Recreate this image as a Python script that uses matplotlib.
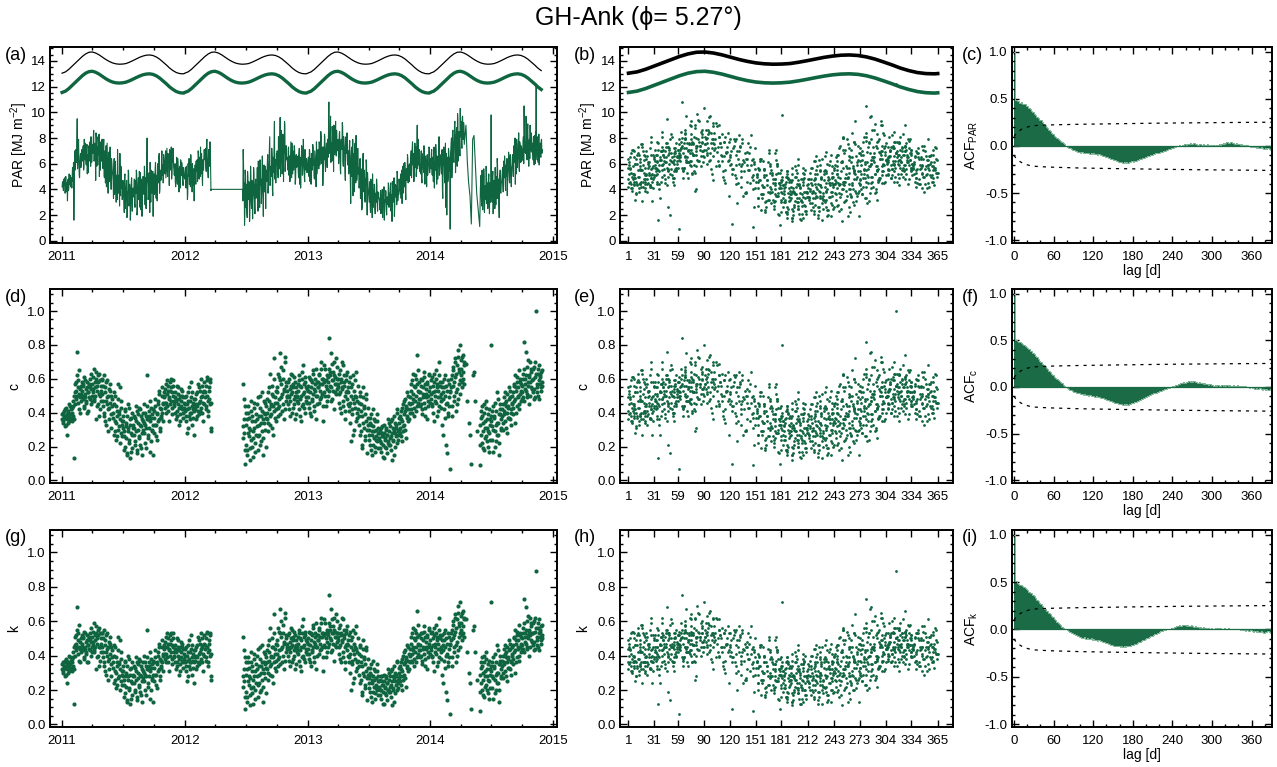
import numpy as np
import pandas as pd
import matplotlib
matplotlib.use('Agg')
import matplotlib.pyplot as plt
import matplotlib.dates as mdates
from matplotlib.ticker import MultipleLocator, FixedLocator, FormatStrFormatter

plt.rcParams['font.family'] = ['Liberation Sans', 'DejaVu Sans']
plt.rcParams['mathtext.fontset'] = 'custom'
plt.rcParams['mathtext.rm'] = 'Liberation Sans'
plt.rcParams['mathtext.it'] = 'Liberation Sans:italic'
plt.rcParams['axes.unicode_minus'] = False

''' Data read off the figure '''
# each row of observations starts at row_start and is sampled every row_step days;
# the *_odd rows hold the days in between (one day later)
row_start = ['2011-01-01', '2011-02-01', '2011-03-01', '2011-04-01', '2011-05-01', '2011-06-01',
             '2011-07-01', '2011-08-02', '2011-09-01', '2011-10-01', '2011-11-01', '2011-12-01',
             '2012-01-01', '2012-02-01', '2012-03-01',
             '2012-06-21', '2012-07-01', '2012-08-02', '2012-09-01', '2012-10-01', '2012-11-01', '2012-12-01',
             '2013-01-01', '2013-02-01', '2013-03-01', '2013-04-01', '2013-05-01', '2013-06-01',
             '2013-07-01', '2013-08-02', '2013-09-01', '2013-10-01', '2013-11-01', '2013-12-01',
             '2014-01-01', '2014-02-01', '2014-03-01', '2014-04-01',
             '2014-04-17',
             '2014-05-28', '2014-07-01', '2014-08-02', '2014-09-01', '2014-10-01', '2014-11-02']
row_step = [2] * 38 + [4] + [2] * 6

par_rows = [
    [4.2, 4.6, 3.9, 4.4, 4.9, 4.3, 3.8, 4.5, 3.1, 4.8, 4.1, 4.4, 5.1, 4.2, 4.6, 5.0],
    [5.7, 4.6, 1.6, 6.3, 5.5, 7.1, 6.1, 9.5, 6.7, 7.9, 5.1, 6.0, 6.8, 6.2],
    [6.8, 6.2, 7.4, 5.7, 6.6, 7.6, 6.1, 7.1, 5.2, 6.7, 7.2, 6.3, 7.7, 5.8, 7.0, 6.5],
    [7.5, 6.8, 8.6, 6.3, 7.2, 4.7, 7.9, 6.9, 5.9, 7.6, 8.3, 6.6, 5.5, 7.3, 7.7],
    [6.5, 5.6, 7.9, 4.9, 7.0, 6.0, 4.2, 7.6, 5.4, 6.4, 4.6, 6.8, 5.9, 4.0, 6.1],
    [5.0, 3.3, 6.4, 4.3, 5.5, 3.0, 4.7, 7.1, 3.7, 5.1, 2.7, 4.5, 5.8, 4.1, 3.2],
    [4.7, 3.6, 2.2, 5.2, 3.1, 4.2, 1.8, 3.8, 5.5, 2.7, 4.4, 1.6, 3.4, 4.9, 2.3, 4.1],
    [3.4, 4.8, 2.6, 4.4, 5.5, 2.0, 3.8, 4.9, 3.2, 4.2, 5.3, 2.4, 4.5, 3.5, 5.0],
    [4.4, 5.8, 2.8, 4.9, 4.0, 8.0, 4.6, 3.5, 5.3, 2.2, 4.5, 5.5, 3.9, 5.0, 1.9],
    [4.7, 3.6, 5.6, 4.2, 5.1, 3.1, 6.0, 4.6, 6.8, 4.0, 5.4, 4.9, 7.0, 5.8, 4.5, 6.3],
    [6.1, 5.2, 7.0, 5.6, 7.2, 5.0, 6.5, 5.9, 7.1, 5.5, 6.7, 4.8, 6.3, 7.2, 5.7],
    [5.1, 6.0, 4.2, 5.6, 4.8, 6.4, 5.2, 3.8, 5.8, 4.5, 5.5, 6.1, 4.9, 4.3, 5.3],
    [4.8, 5.7, 4.1, 5.2, 3.2, 6.0, 5.0, 4.4, 5.5, 6.7, 4.6, 3.8, 5.3, 4.9, 3.1, 5.1],
    [5.9, 4.4, 5.5, 6.3, 5.0, 6.7, 4.8, 5.7, 7.3, 5.2, 6.1, 4.3, 5.6, 6.5],
    [6.3, 7.2, 5.4, 7.9, 6.1, 4.9, 6.8, 5.8, 7.5, 3.9],
    [4.0, 7.1, 3.5, 1.2, 5.5],
    [2.6, 4.4, 1.8, 4.9, 3.2, 3.8, 2.3, 5.8, 3.0, 4.7, 1.7, 3.6, 5.3, 2.7, 4.3, 3.3],
    [4.0, 5.7, 2.3, 4.8, 3.4, 6.3, 4.3, 2.9, 5.2, 4.5, 1.9, 5.9, 3.8, 4.9, 5.5],
    [4.6, 6.2, 3.7, 5.4, 7.1, 4.3, 5.8, 5.0, 6.6, 3.5, 5.7, 7.7, 4.8, 6.3, 5.4],
    [5.9, 6.7, 4.9, 7.8, 5.6, 9.6, 6.3, 7.3, 5.2, 8.3, 4.6, 6.8, 9.0, 6.0, 7.4, 6.4],
    [6.5, 5.5, 7.3, 6.0, 4.6, 6.8, 6.2, 7.6, 5.2, 6.7, 5.9, 7.1, 4.4, 6.3, 5.7],
    [5.8, 6.6, 4.9, 7.2, 5.6, 4.1, 6.4, 7.0, 5.2, 7.9, 6.0, 4.6, 6.7, 5.5, 6.3],
    [5.7, 6.5, 5.0, 7.0, 6.0, 4.4, 6.7, 5.5, 7.3, 6.3, 4.8, 6.6, 5.8, 7.7, 5.2, 6.4],
    [7.1, 5.6, 7.6, 6.5, 8.5, 6.0, 7.0, 4.3, 7.3, 6.3, 8.1, 5.4, 7.2, 6.6],
    [7.9, 6.5, 10.8, 7.2, 8.3, 6.1, 7.6, 8.9, 6.8, 5.4, 8.0, 7.4, 9.3, 6.6, 7.7, 7.1],
    [7.5, 6.0, 8.3, 6.8, 5.2, 7.9, 7.2, 8.9, 5.8, 7.6, 6.6, 4.7, 8.1, 6.9, 6.3],
    [6.7, 5.2, 7.4, 5.9, 2.9, 7.0, 5.0, 7.9, 6.1, 3.8, 6.4, 5.5, 8.2, 4.7, 6.0],
    [5.2, 4.1, 6.2, 3.3, 5.6, 2.4, 4.7, 6.8, 3.8, 5.3, 3.0, 4.3, 6.0, 2.0, 4.6],
    [3.7, 3.0, 4.6, 2.2, 4.1, 3.3, 5.2, 2.6, 3.6, 4.3, 2.1, 3.2, 4.8, 2.8, 3.8, 3.4],
    [3.2, 2.4, 3.9, 2.8, 3.5, 1.8, 3.3, 4.2, 2.5, 3.0, 3.8, 2.0, 3.4, 2.8, 4.3],
    [3.7, 2.7, 4.5, 3.4, 1.5, 4.0, 3.1, 4.9, 2.6, 3.6, 4.3, 2.8, 5.2, 3.5, 3.9],
    [4.4, 3.6, 5.2, 4.6, 2.9, 5.8, 4.1, 5.0, 6.1, 3.8, 5.5, 4.7, 6.7, 4.5, 5.9, 5.1],
    [6.0, 5.1, 7.0, 5.6, 7.7, 6.2, 4.6, 6.7, 5.7, 7.3, 5.4, 9.0, 6.5, 5.9, 7.1],
    [6.0, 5.2, 7.0, 4.5, 6.4, 5.7, 7.4, 5.0, 6.6, 5.9, 4.2, 6.7, 5.5, 6.1, 7.2],
    [6.4, 5.6, 7.1, 5.1, 6.0, 6.7, 4.1, 5.8, 7.5, 5.3, 6.6, 4.8, 6.1, 8.1, 5.7, 6.5],
    [6.2, 5.2, 7.1, 3.3, 5.9, 6.7, 4.5, 7.6, 5.5, 2.0, 6.5, 4.9, 7.0, 6.0],
    [0.9, 7.1, 8.0, 5.7, 8.6, 6.5, 7.5, 9.3, 5.3, 8.1, 7.0, 9.9, 6.2, 8.5, 7.6, 10.3],
    [8.1, 9.3, 7.2, 9.7, 7.9, 8.9],
    [9.0, 6.2, 4.5, 3.5, 1.3, 7.9, 8.2, 6.0, 3.7],
    [1.1, 4.1, 5.1, 2.7, 4.7, 3.6, 5.6, 2.2, 4.3, 3.2, 5.3, 3.8, 2.5, 4.8, 3.5, 4.5, 3.0],
    [9.8, 3.9, 5.0, 2.1, 4.6, 3.6, 5.7, 2.8, 4.2, 6.4, 3.3, 4.8, 1.8, 5.2, 3.8, 4.4],
    [4.8, 5.7, 3.8, 5.2, 6.6, 4.4, 5.9, 5.0, 3.5, 5.5, 6.9, 4.7, 6.2, 5.3, 4.2],
    [5.9, 6.7, 5.0, 7.4, 6.2, 4.4, 7.1, 7.9, 5.7, 6.5, 8.4, 5.4, 7.5, 6.1, 6.8],
    [7.2, 6.3, 8.1, 10.5, 6.9, 7.7, 9.7, 6.5, 8.6, 7.4, 5.8, 7.9, 9.0, 7.0, 8.2, 7.6],
    [6.3, 8.1, 5.9, 7.4, 8.5, 12.2, 6.7, 7.7, 6.1, 8.3, 7.0, 7.6, 6.5, 7.9, 7.1],
]
par_rows_odd = [
    [4.5, 4.1, 4.8, 4.3, 3.7, 5.0, 4.4, 4.2, 4.6, 3.9, 5.2, 4.5, 4.3, 4.9, 4.1],
    [5.4, 6.1, 4.4, 7.0, 5.9, 6.5, 7.6, 5.6, 7.2, 6.2, 4.9, 6.6, 5.7, 7.1],
    [6.5, 7.2, 5.5, 7.9, 6.3, 7.0, 5.9, 7.5, 6.7, 5.3, 7.4, 6.2, 7.1, 8.1, 6.1],
    [7.1, 8.0, 6.2, 7.6, 6.6, 8.4, 5.8, 7.3, 8.1, 6.7, 5.0, 7.7, 6.9, 6.2, 7.9],
    [6.0, 7.2, 5.1, 6.7, 4.5, 7.4, 5.8, 6.3, 3.7, 6.9, 5.5, 7.3, 5.0, 6.4, 5.6],
    [4.6, 5.6, 3.6, 6.2, 4.2, 5.1, 3.2, 6.0, 4.0, 4.8, 6.8, 3.5, 5.3, 4.3, 3.8],
    [4.3, 3.2, 5.0, 2.5, 3.9, 4.7, 2.0, 3.6, 5.3, 3.0, 4.1, 2.1, 4.6, 3.3, 3.8],
    [3.9, 2.9, 4.7, 3.7, 5.2, 2.3, 4.3, 3.3, 5.4, 2.6, 4.0, 4.8, 1.9, 3.8, 4.4],
    [3.6, 5.2, 4.3, 2.5, 5.7, 4.6, 3.2, 4.9, 4.0, 6.1, 3.0, 4.8, 3.7, 5.4, 4.3],
    [5.2, 4.2, 6.1, 3.3, 5.0, 5.8, 4.5, 6.5, 3.7, 5.5, 4.7, 6.4, 5.1, 5.9, 6.7],
    [5.6, 6.6, 4.9, 6.2, 5.4, 6.8, 6.0, 4.3, 6.5, 5.7, 7.3, 5.2, 6.1, 6.8, 5.5],
    [5.7, 4.6, 5.5, 6.5, 4.4, 5.9, 5.0, 5.6, 4.1, 6.3, 5.1, 5.8, 4.6, 5.7, 5.0],
    [5.2, 4.4, 5.8, 4.9, 3.6, 5.5, 6.4, 4.6, 4.2, 5.7, 5.1, 6.0, 4.3, 5.6, 4.8],
    [5.1, 6.2, 5.4, 4.6, 7.0, 5.6, 6.5, 5.0, 6.0, 6.8, 4.9, 6.3, 5.5, 7.1],
    [6.7, 5.7, 7.6, 6.5, 5.3, 7.1, 6.2, 7.7, 5.9, 4.0],
    [3.1, 6.0, 4.5, 2.2, 5.0],
    [4.1, 2.2, 5.4, 3.4, 4.6, 1.5, 3.7, 5.0, 2.5, 4.3, 3.1, 5.7, 3.8, 2.1, 4.8],
    [4.5, 3.3, 6.2, 4.2, 2.6, 5.4, 4.8, 3.7, 6.6, 3.2, 5.0, 4.3, 5.8, 2.5, 4.7],
    [5.2, 6.7, 4.4, 6.1, 8.1, 4.9, 5.7, 7.2, 4.0, 6.5, 5.3, 9.3, 5.9, 4.5, 6.8],
    [7.0, 5.5, 8.1, 6.1, 7.6, 5.0, 8.6, 6.5, 5.8, 7.7, 6.9, 9.3, 5.4, 7.2, 6.3],
    [6.1, 7.1, 5.1, 6.6, 5.7, 7.7, 4.9, 6.3, 7.0, 5.5, 7.4, 6.1, 4.8, 6.7, 6.0],
    [6.1, 5.3, 6.8, 4.4, 6.5, 5.8, 7.4, 5.1, 5.9, 6.6, 5.0, 7.1, 5.7, 6.4, 5.3],
    [6.1, 5.3, 7.1, 4.6, 6.4, 6.8, 5.6, 7.5, 5.9, 5.1, 7.0, 6.1, 4.2, 6.7, 5.8],
    [6.7, 7.7, 5.9, 7.0, 8.1, 6.2, 7.3, 5.4, 7.1, 8.3, 6.1, 6.8, 7.6, 5.7],
    [7.5, 8.5, 6.8, 8.0, 9.7, 7.1, 6.2, 8.3, 7.6, 9.0, 6.7, 7.9, 7.4, 8.6, 7.0],
    [7.9, 6.7, 8.5, 5.6, 7.6, 7.1, 9.2, 6.2, 8.1, 7.3, 5.4, 7.7, 6.8, 8.4, 5.9],
    [7.0, 5.6, 7.8, 4.4, 6.4, 7.3, 5.4, 3.5, 6.8, 5.9, 7.6, 4.5, 6.3, 5.1, 7.2],
    [5.7, 4.7, 6.4, 3.6, 5.1, 2.6, 6.1, 4.2, 5.5, 3.2, 4.8, 6.3, 3.7, 5.3, 4.1],
    [3.3, 4.2, 2.6, 4.8, 3.6, 1.8, 3.9, 3.1, 4.4, 2.5, 3.7, 3.0, 4.3, 2.3, 3.4],
    [2.9, 3.7, 2.1, 3.3, 4.0, 2.6, 3.5, 1.6, 3.2, 3.9, 2.4, 3.4, 2.9, 4.5, 2.6],
    [3.2, 4.1, 2.3, 3.6, 4.6, 3.0, 3.9, 1.9, 4.4, 3.4, 4.0, 5.4, 3.1, 3.7, 4.8],
    [4.0, 4.9, 3.3, 5.5, 4.5, 3.7, 6.0, 4.2, 5.2, 3.2, 5.6, 4.9, 6.4, 5.4, 4.6],
    [5.5, 6.5, 4.9, 7.2, 5.9, 6.8, 5.2, 7.6, 6.1, 5.0, 7.0, 5.6, 7.9, 6.3, 5.4],
    [5.6, 6.5, 4.9, 6.8, 5.9, 5.3, 7.1, 4.4, 6.3, 5.7, 6.6, 5.1, 5.8, 7.3, 5.3],
    [5.9, 6.8, 5.2, 6.5, 4.6, 7.3, 6.1, 5.5, 7.0, 4.4, 6.4, 5.7, 7.2, 5.1, 6.7],
    [5.7, 6.7, 4.0, 6.3, 7.3, 5.1, 6.1, 2.6, 6.8, 5.6, 4.6, 7.2, 5.4, 6.5],
    [6.7, 7.7, 4.9, 8.4, 7.2, 6.1, 9.0, 7.9, 6.7, 8.8, 5.8, 9.4, 7.4, 8.3, 6.6],
    [8.6, 7.6, 9.6, 8.4, 9.2, 7.5],
    [],
    [2.6, 4.6, 3.3, 5.5, 2.4, 4.2, 5.0, 3.1, 3.8, 5.8, 2.9, 4.5, 3.6, 5.2, 2.1, 4.1, 4.7],
    [4.3, 3.0, 5.4, 3.7, 4.7, 2.5, 4.1, 5.0, 3.3, 5.9, 4.2, 2.7, 4.8, 5.5, 3.7],
    [5.3, 4.3, 6.2, 4.9, 5.8, 3.9, 5.5, 6.4, 4.7, 5.4, 6.0, 4.5, 6.7, 5.0, 5.7],
    [6.5, 5.5, 7.2, 6.1, 8.0, 6.8, 5.2, 7.5, 6.3, 7.1, 5.8, 7.7, 6.6, 7.4, 6.2],
    [6.7, 7.7, 6.0, 8.4, 7.3, 6.8, 7.9, 6.3, 9.1, 7.2, 7.8, 6.4, 7.4, 8.4, 6.9],
    [7.3, 6.6, 8.2, 6.0, 7.7, 7.0, 6.3, 8.1, 7.2, 5.9, 7.4, 6.7, 7.8, 6.8],
]

c_rows = [
    [.36, .40, .34, .38, .42, .37, .33, .39, .27, .41, .35, .38, .44, .36, .40, .43],
    [.47, .38, .13, .52, .45, .58, .50, .76, .55, .65, .42, .49, .56, .51],
    [.53, .48, .57, .44, .51, .59, .47, .55, .40, .52, .56, .49, .60, .45, .54, .50],
    [.57, .52, .66, .48, .55, .36, .60, .53, .45, .58, .63, .50, .42, .56, .59],
    [.51, .44, .62, .38, .55, .47, .33, .59, .42, .50, .36, .53, .46, .31, .48],
    [.40, .27, .52, .35, .44, .24, .38, .57, .30, .41, .22, .36, .47, .33, .26],
    [.38, .29, .18, .42, .25, .34, .15, .31, .45, .22, .36, .13, .28, .40, .19, .33],
    [.27, .38, .21, .35, .44, .16, .30, .39, .25, .33, .42, .19, .36, .28, .40],
    [.34, .45, .22, .38, .31, .62, .36, .27, .41, .17, .35, .43, .30, .39, .15],
    [.37, .28, .44, .33, .40, .24, .47, .36, .53, .31, .42, .38, .55, .45, .35, .49],
    [.50, .43, .57, .46, .59, .41, .53, .48, .58, .45, .55, .39, .52, .59, .47],
    [.44, .52, .36, .48, .41, .55, .45, .33, .50, .39, .47, .53, .42, .37, .46],
    [.41, .49, .35, .45, .28, .52, .43, .38, .47, .58, .40, .33, .46, .42, .27, .44],
    [.48, .36, .45, .52, .41, .55, .39, .47, .60, .43, .50, .35, .46, .53],
    [.49, .56, .42, .61, .47, .38, .53, .45, .58, .29],
    [.32, .57, .28, .10, .44],
    [.21, .36, .15, .40, .26, .31, .19, .47, .24, .38, .14, .29, .43, .22, .35, .27],
    [.32, .45, .18, .38, .27, .50, .34, .23, .41, .36, .15, .47, .30, .39, .44],
    [.36, .48, .29, .42, .55, .33, .45, .39, .51, .27, .44, .60, .37, .49, .42],
    [.46, .52, .38, .61, .44, .75, .49, .57, .41, .65, .36, .53, .70, .47, .58, .50],
    [.53, .45, .60, .49, .38, .56, .51, .62, .43, .55, .48, .58, .36, .52, .47],
    [.50, .57, .42, .62, .48, .35, .55, .60, .45, .68, .52, .40, .58, .47, .54],
    [.49, .56, .43, .60, .52, .38, .58, .47, .63, .54, .41, .57, .50, .66, .45, .55],
    [.58, .46, .62, .53, .70, .49, .57, .35, .60, .52, .66, .44, .59, .54],
    [.61, .50, .84, .56, .64, .47, .59, .69, .53, .42, .62, .57, .72, .51, .60, .55],
    [.57, .46, .63, .52, .40, .60, .55, .68, .44, .58, .50, .36, .62, .53, .48],
    [.52, .41, .58, .46, .23, .55, .39, .62, .48, .30, .50, .43, .64, .37, .47],
    [.42, .33, .50, .27, .45, .19, .38, .55, .31, .43, .24, .35, .48, .16, .37],
    [.30, .24, .37, .18, .33, .27, .42, .21, .29, .35, .17, .26, .39, .23, .31, .28],
    [.25, .19, .31, .22, .28, .14, .26, .33, .20, .24, .30, .16, .27, .22, .34],
    [.29, .21, .35, .26, .12, .31, .24, .38, .20, .28, .33, .22, .40, .27, .30],
    [.34, .28, .41, .36, .23, .45, .32, .39, .48, .30, .43, .37, .52, .35, .46, .40],
    [.49, .42, .57, .46, .63, .51, .38, .55, .47, .60, .44, .74, .53, .48, .58],
    [.52, .45, .60, .39, .55, .49, .64, .43, .57, .51, .36, .58, .47, .53, .62],
    [.55, .48, .61, .44, .52, .58, .35, .50, .65, .46, .57, .41, .53, .70, .49, .56],
    [.51, .43, .58, .27, .48, .55, .37, .62, .45, .16, .53, .40, .57, .49],
    [.07, .55, .62, .44, .67, .50, .58, .72, .41, .63, .54, .77, .48, .66, .59, .80],
    [.62, .71, .55, .74, .60, .68],
    [.69, .47, .34, .27, .10, .62, .64, .47, .29],
    [.09, .33, .41, .22, .38, .29, .45, .18, .35, .26, .43, .31, .20, .39, .28, .36, .24],
    [.80, .32, .41, .17, .37, .29, .46, .23, .34, .52, .27, .39, .15, .42, .31, .36],
    [.38, .45, .30, .41, .52, .35, .47, .40, .28, .44, .55, .37, .49, .42, .33],
    [.46, .52, .39, .57, .48, .34, .55, .61, .44, .50, .65, .42, .58, .47, .53],
    [.56, .49, .63, .82, .54, .60, .76, .51, .67, .58, .45, .62, .70, .55, .64, .59],
    [.52, .66, .48, .61, .70, 1.0, .55, .63, .50, .68, .57, .62, .53, .65, .58],
]
c_rows_odd = [
    [.39, .35, .41, .37, .32, .43, .38, .36, .40, .34, .45, .39, .37, .42, .35],
    [.44, .50, .36, .57, .48, .53, .62, .46, .59, .51, .40, .54, .47, .58],
    [.50, .56, .43, .61, .49, .54, .46, .58, .52, .41, .57, .48, .55, .63, .47],
    [.54, .61, .47, .58, .50, .64, .44, .56, .62, .51, .38, .59, .53, .47, .60],
    [.47, .56, .40, .52, .35, .58, .45, .49, .29, .54, .43, .57, .39, .50, .44],
    [.37, .45, .29, .50, .34, .41, .26, .48, .32, .39, .55, .28, .43, .35, .31],
    [.35, .26, .41, .20, .32, .38, .16, .29, .43, .24, .33, .17, .37, .27, .31],
    [.31, .23, .37, .29, .41, .18, .34, .26, .43, .21, .32, .38, .15, .30, .35],
    [.28, .40, .33, .19, .44, .36, .25, .38, .31, .47, .23, .37, .29, .42, .33],
    [.41, .33, .48, .26, .39, .45, .35, .51, .29, .43, .37, .50, .40, .46, .52],
    [.46, .54, .40, .51, .44, .56, .49, .35, .53, .47, .60, .43, .50, .56, .45],
    [.49, .40, .47, .56, .38, .51, .43, .48, .35, .54, .44, .50, .40, .49, .43],
    [.45, .38, .50, .42, .31, .47, .55, .40, .36, .49, .44, .52, .37, .48, .41],
    [.42, .51, .44, .38, .57, .46, .53, .41, .49, .56, .40, .52, .45, .58],
    [.52, .44, .59, .50, .41, .55, .48, .60, .46, .31],
    [.25, .48, .36, .18, .40],
    [.33, .18, .44, .28, .37, .12, .30, .41, .20, .35, .25, .46, .31, .17, .39],
    [.36, .26, .49, .33, .21, .43, .38, .29, .52, .25, .40, .34, .46, .20, .37],
    [.40, .52, .34, .47, .63, .38, .44, .56, .31, .50, .41, .72, .46, .35, .53],
    [.55, .43, .63, .48, .59, .39, .67, .51, .45, .60, .54, .73, .42, .56, .49],
    [.50, .58, .42, .54, .47, .63, .40, .52, .57, .45, .61, .50, .39, .55, .49],
    [.53, .46, .59, .38, .56, .50, .64, .44, .51, .57, .43, .61, .49, .55, .46],
    [.53, .46, .61, .40, .55, .59, .48, .65, .51, .44, .60, .53, .36, .58, .50],
    [.55, .63, .48, .57, .66, .51, .60, .44, .58, .68, .50, .56, .62, .47],
    [.58, .66, .53, .62, .75, .55, .48, .64, .59, .70, .52, .61, .57, .67, .54],
    [.60, .51, .65, .43, .58, .54, .70, .47, .62, .56, .41, .59, .52, .64, .45],
    [.55, .44, .61, .34, .50, .57, .42, .27, .53, .46, .59, .35, .49, .40, .56],
    [.46, .38, .52, .29, .41, .21, .49, .34, .44, .26, .39, .51, .30, .43, .33],
    [.27, .34, .21, .39, .29, .15, .32, .25, .36, .20, .30, .24, .35, .19, .28],
    [.23, .29, .17, .26, .32, .21, .28, .13, .25, .31, .19, .27, .23, .36, .21],
    [.25, .32, .18, .28, .36, .23, .30, .15, .34, .26, .31, .42, .24, .29, .37],
    [.31, .38, .26, .43, .35, .29, .47, .33, .41, .25, .44, .38, .50, .42, .36],
    [.45, .53, .40, .59, .48, .56, .43, .62, .50, .41, .57, .46, .65, .52, .44],
    [.48, .56, .42, .59, .51, .46, .61, .38, .54, .49, .57, .44, .50, .63, .46],
    [.51, .59, .45, .56, .40, .63, .53, .47, .60, .38, .55, .49, .62, .44, .58],
    [.47, .55, .33, .52, .60, .42, .50, .21, .56, .46, .38, .59, .44, .53],
    [.52, .60, .38, .65, .56, .47, .70, .61, .52, .68, .45, .73, .57, .64, .51],
    [.66, .58, .73, .64, .70, .57],
    [],
    [.21, .37, .27, .44, .19, .34, .40, .25, .31, .47, .23, .36, .29, .42, .17, .33, .38],
    [.35, .24, .44, .30, .38, .20, .33, .41, .27, .48, .34, .22, .39, .45, .30],
    [.42, .34, .49, .39, .46, .31, .44, .51, .37, .43, .48, .36, .53, .40, .45],
    [.50, .43, .56, .47, .62, .53, .40, .58, .49, .55, .45, .60, .51, .57, .48],
    [.52, .60, .47, .66, .57, .53, .62, .49, .71, .56, .61, .50, .58, .66, .54],
    [.60, .54, .67, .49, .63, .57, .52, .66, .59, .48, .61, .55, .64, .56],
]

k_rows = [
    [.32, .36, .30, .34, .37, .33, .29, .35, .24, .36, .31, .34, .39, .32, .36, .38],
    [.42, .34, .12, .46, .40, .52, .45, .68, .49, .58, .37, .44, .50, .45],
    [.47, .43, .51, .39, .45, .53, .42, .49, .36, .46, .50, .44, .53, .40, .48, .45],
    [.51, .46, .59, .43, .49, .32, .53, .47, .40, .52, .56, .45, .37, .50, .53],
    [.45, .39, .55, .34, .49, .42, .29, .53, .37, .45, .32, .47, .41, .28, .43],
    [.36, .24, .46, .31, .39, .21, .34, .51, .27, .36, .20, .32, .42, .29, .23],
    [.34, .26, .16, .37, .22, .30, .13, .28, .40, .20, .32, .12, .25, .36, .17, .29],
    [.24, .34, .19, .31, .39, .14, .27, .35, .22, .29, .37, .17, .32, .25, .36],
    [.30, .40, .20, .34, .28, .55, .32, .24, .36, .15, .31, .38, .27, .35, .13],
    [.33, .25, .39, .29, .36, .21, .42, .32, .47, .28, .37, .34, .49, .40, .31, .44],
    [.45, .38, .51, .41, .53, .36, .47, .43, .52, .40, .49, .35, .46, .53, .42],
    [.39, .46, .32, .43, .36, .49, .40, .29, .45, .35, .42, .47, .37, .33, .41],
    [.36, .44, .31, .40, .25, .46, .38, .34, .42, .52, .36, .29, .41, .37, .24, .39],
    [.43, .32, .40, .46, .36, .49, .35, .42, .53, .38, .45, .31, .41, .47],
    [.44, .50, .37, .54, .42, .34, .47, .40, .52, .26],
    [.28, .51, .25, .09, .39],
    [.19, .32, .13, .36, .23, .28, .17, .42, .21, .34, .12, .26, .38, .20, .31, .24],
    [.28, .40, .16, .34, .24, .45, .30, .20, .36, .32, .13, .42, .27, .35, .39],
    [.32, .43, .26, .37, .49, .29, .40, .35, .45, .24, .39, .53, .33, .44, .37],
    [.41, .46, .34, .54, .39, .67, .44, .51, .36, .58, .32, .47, .62, .42, .52, .45],
    [.47, .40, .53, .44, .34, .50, .45, .55, .38, .49, .43, .52, .32, .46, .42],
    [.45, .51, .37, .55, .43, .31, .49, .53, .40, .61, .46, .36, .52, .42, .48],
    [.44, .50, .38, .53, .46, .34, .52, .42, .56, .48, .36, .51, .45, .59, .40, .49],
    [.52, .41, .55, .47, .62, .44, .51, .31, .53, .46, .59, .39, .53, .48],
    [.54, .45, .75, .50, .57, .42, .53, .61, .47, .37, .55, .51, .64, .45, .53, .49],
    [.51, .41, .56, .46, .36, .53, .49, .61, .39, .52, .45, .32, .55, .47, .43],
    [.46, .36, .52, .41, .20, .49, .35, .55, .43, .27, .45, .38, .57, .33, .42],
    [.37, .29, .45, .24, .40, .17, .34, .49, .28, .38, .21, .31, .43, .14, .33],
    [.27, .21, .33, .16, .29, .24, .37, .19, .26, .31, .15, .23, .35, .20, .28, .25],
    [.22, .17, .28, .20, .25, .12, .23, .29, .18, .21, .27, .14, .24, .20, .30],
    [.26, .19, .31, .23, .11, .28, .21, .34, .18, .25, .29, .20, .36, .24, .27],
    [.30, .25, .36, .32, .20, .40, .28, .35, .43, .27, .38, .33, .46, .31, .41, .36],
    [.44, .37, .51, .41, .56, .45, .34, .49, .42, .53, .39, .66, .47, .43, .52],
    [.46, .40, .53, .35, .49, .44, .57, .38, .51, .45, .32, .52, .42, .47, .55],
    [.49, .43, .54, .39, .46, .52, .31, .45, .58, .41, .51, .36, .47, .62, .44, .50],
    [.45, .38, .52, .24, .43, .49, .33, .55, .40, .14, .47, .36, .51, .44],
    [.06, .49, .55, .39, .60, .45, .52, .64, .36, .56, .48, .69, .43, .59, .53, .71],
    [.55, .63, .49, .66, .53, .61],
    [.61, .42, .30, .24, .09, .55, .57, .42, .26],
    [.08, .29, .36, .20, .34, .26, .40, .16, .31, .23, .38, .28, .18, .35, .25, .32, .21],
    [.71, .28, .36, .15, .33, .26, .41, .20, .30, .46, .24, .35, .13, .37, .28, .32],
    [.34, .40, .27, .36, .46, .31, .42, .36, .25, .39, .49, .33, .44, .37, .29],
    [.41, .46, .35, .51, .43, .30, .49, .54, .39, .45, .58, .37, .52, .42, .47],
    [.50, .44, .56, .73, .48, .53, .68, .45, .60, .52, .40, .55, .62, .49, .57, .53],
    [.46, .59, .43, .54, .62, .89, .49, .56, .45, .61, .51, .55, .47, .58, .52],
]
k_rows_odd = [
    [.35, .31, .36, .33, .28, .38, .34, .32, .36, .30, .40, .35, .33, .37, .31],
    [.39, .45, .32, .51, .43, .47, .55, .41, .53, .45, .36, .48, .42, .52],
    [.45, .50, .38, .54, .44, .48, .41, .52, .46, .36, .51, .43, .49, .56, .42],
    [.48, .54, .42, .52, .45, .57, .39, .50, .55, .45, .34, .53, .47, .42, .53],
    [.42, .50, .36, .46, .31, .52, .40, .44, .26, .48, .38, .51, .35, .45, .39],
    [.33, .40, .26, .45, .30, .36, .23, .43, .28, .35, .49, .25, .38, .31, .28],
    [.31, .23, .36, .18, .28, .34, .14, .26, .38, .21, .29, .15, .33, .24, .28],
    [.28, .20, .33, .26, .36, .16, .30, .23, .38, .19, .28, .34, .13, .27, .31],
    [.25, .36, .29, .17, .39, .32, .22, .34, .28, .42, .20, .33, .26, .37, .29],
    [.36, .29, .43, .23, .35, .40, .31, .45, .26, .38, .33, .45, .36, .41, .46],
    [.41, .48, .36, .45, .39, .50, .44, .31, .47, .42, .53, .38, .45, .50, .40],
    [.44, .36, .42, .50, .34, .45, .38, .43, .31, .48, .39, .45, .36, .44, .38],
    [.40, .34, .45, .37, .28, .42, .49, .36, .32, .44, .39, .46, .33, .43, .36],
    [.37, .45, .39, .34, .51, .41, .47, .36, .44, .50, .36, .46, .40, .52],
    [.46, .39, .53, .45, .36, .49, .43, .53, .41, .28],
    [.22, .43, .32, .16, .36],
    [.29, .16, .39, .25, .33, .11, .27, .36, .18, .31, .22, .41, .28, .15, .35],
    [.32, .23, .44, .29, .19, .38, .34, .26, .46, .22, .36, .30, .41, .18, .33],
    [.36, .46, .30, .42, .56, .34, .39, .50, .28, .45, .36, .64, .41, .31, .47],
    [.49, .38, .56, .43, .53, .35, .60, .45, .40, .53, .48, .65, .37, .50, .44],
    [.45, .52, .37, .48, .42, .56, .36, .46, .51, .40, .54, .45, .35, .49, .44],
    [.47, .41, .53, .34, .50, .45, .57, .39, .45, .51, .38, .54, .44, .49, .41],
    [.47, .41, .54, .36, .49, .53, .43, .58, .45, .39, .53, .47, .32, .52, .45],
    [.49, .56, .43, .51, .59, .45, .53, .39, .52, .61, .45, .50, .55, .42],
    [.52, .59, .47, .55, .67, .49, .43, .57, .53, .62, .46, .54, .51, .60, .48],
    [.53, .45, .58, .38, .52, .48, .62, .42, .55, .50, .36, .53, .46, .57, .40],
    [.49, .39, .54, .30, .45, .51, .37, .24, .47, .41, .53, .31, .44, .36, .50],
    [.41, .34, .46, .26, .36, .19, .44, .30, .39, .23, .35, .45, .27, .38, .29],
    [.24, .30, .19, .35, .26, .13, .28, .22, .32, .18, .27, .21, .31, .17, .25],
    [.20, .26, .15, .23, .28, .19, .25, .12, .22, .28, .17, .24, .20, .32, .19],
    [.22, .28, .16, .25, .32, .20, .27, .13, .30, .23, .28, .37, .21, .26, .33],
    [.28, .34, .23, .38, .31, .26, .42, .29, .36, .22, .39, .34, .45, .37, .32],
    [.40, .47, .36, .53, .43, .50, .38, .55, .45, .36, .51, .41, .58, .46, .39],
    [.43, .50, .37, .53, .45, .41, .54, .34, .48, .44, .51, .39, .45, .56, .41],
    [.45, .53, .40, .50, .36, .56, .47, .42, .53, .34, .49, .44, .55, .39, .52],
    [.42, .49, .29, .46, .53, .37, .45, .19, .50, .41, .34, .53, .39, .47],
    [.46, .53, .34, .58, .50, .42, .62, .54, .46, .61, .40, .65, .51, .57, .45],
    [.59, .52, .65, .57, .62, .51],
    [],
    [.19, .33, .24, .39, .17, .30, .36, .22, .28, .42, .20, .32, .26, .37, .15, .29, .34],
    [.31, .21, .39, .27, .34, .18, .29, .36, .24, .43, .30, .20, .35, .40, .27],
    [.37, .30, .44, .35, .41, .28, .39, .45, .33, .38, .43, .32, .47, .36, .40],
    [.45, .38, .50, .42, .55, .47, .36, .52, .44, .49, .40, .53, .45, .51, .43],
    [.46, .53, .42, .59, .51, .47, .55, .44, .63, .50, .54, .45, .52, .59, .48],
    [.53, .48, .60, .44, .56, .51, .46, .59, .53, .43, .54, .49, .57, .50],
]

# clear-sky reference curves (day of year)
clr_doy = [1, 11, 21, 31, 41, 51, 61, 71, 81, 91, 101, 111, 121, 131, 141, 151, 161, 171, 181,
           191, 201, 211, 221, 231, 241, 251, 261, 271, 281, 291, 301, 311, 321, 331, 341, 351, 361, 365]
par_ref_k = [13.05, 13.15, 13.35, 13.6, 13.85, 14.1, 14.35, 14.55, 14.68, 14.7, 14.62, 14.48, 14.3,
             14.12, 13.97, 13.85, 13.78, 13.75, 13.76, 13.8, 13.9, 14.02, 14.15, 14.28, 14.38, 14.45,
             14.47, 14.43, 14.32, 14.15, 13.93, 13.7, 13.45, 13.25, 13.1, 13.02, 13.0, 13.02]
par_ref_c = [11.55, 11.65, 11.85, 12.1, 12.35, 12.6, 12.85, 13.05, 13.17, 13.2, 13.12, 12.98, 12.8,
             12.62, 12.47, 12.36, 12.3, 12.28, 12.3, 12.35, 12.45, 12.57, 12.7, 12.82, 12.92, 12.98,
             13.0, 12.96, 12.85, 12.68, 12.46, 12.23, 11.98, 11.78, 11.62, 11.53, 11.5, 11.52]
clr_years = [2011, 2012, 2013, 2014]
clr_end = '2014-11-28'

# autocorrelation, lags 0, 2, 4, ... days
acf_par = [1.00, .49, .48, .48, .46, .47, .45, .44, .44, .42,
           .42, .40, .39, .37, .36, .34, .33, .31, .30, .28,
           .27, .25, .23, .22, .20, .19, .17, .16, .14, .13,
           .11, .10, .08, .07, .06, .05, .04, .03, .02, .00,
           -.01, -.02, -.02, -.03, -.04, -.04, -.05, -.05, -.06, -.06,
           -.07, -.06, -.08, -.07, -.08, -.07, -.08, -.09, -.08, -.09,
           -.08, -.09, -.09, -.10, -.09, -.10, -.10, -.11, -.11, -.12,
           -.12, -.13, -.13, -.14, -.14, -.15, -.15, -.16, -.16, -.17,
           -.17, -.17, -.18, -.17, -.18, -.17, -.18, -.17, -.17, -.16,
           -.17, -.16, -.16, -.15, -.15, -.14, -.14, -.13, -.13, -.12,
           -.12, -.11, -.11, -.10, -.10, -.09, -.09, -.08, -.08, -.07,
           -.07, -.06, -.06, -.05, -.05, -.04, -.04, -.03, -.03, -.02,
           -.02, -.01, -.01, .00, .00, .01, .00, .01, .01, .02,
           .01, .02, .02, .03, .02, .02, .03, .02, .02, .01,
           .02, .02, .01, .02, .01, .01, .02, .01, .01, .00,
           .01, .01, .00, .01, .01, .02, .01, .02, .03, .02,
           .03, .04, .03, .03, .04, .03, .03, .02, .03, .02,
           .02, .01, .02, .01, .01, .00, .01, .00, .00, -.01,
           .00, -.01, -.01, -.02, -.01, -.02, -.02, -.01, -.02, -.03,
           -.02, -.03, -.02, -.03, -.04, -.03, -.03, -.04]
acf_c = [1.00, .50, .49, .48, .48, .47, .46, .45, .44, .43,
         .42, .41, .39, .38, .36, .35, .33, .32, .30, .28,
         .27, .25, .24, .22, .20, .19, .17, .16, .14, .13,
         .11, .10, .08, .07, .06, .05, .04, .02, .01, .00,
         -.01, -.02, -.03, -.03, -.04, -.05, -.05, -.06, -.07, -.07,
         -.08, -.08, -.09, -.08, -.09, -.09, -.10, -.09, -.10, -.10,
         -.10, -.11, -.10, -.11, -.11, -.12, -.12, -.12, -.13, -.13,
         -.14, -.14, -.15, -.15, -.16, -.16, -.17, -.17, -.17, -.18,
         -.18, -.18, -.19, -.18, -.19, -.18, -.19, -.18, -.18, -.17,
         -.17, -.16, -.16, -.15, -.15, -.14, -.13, -.13, -.12, -.11,
         -.11, -.10, -.09, -.09, -.08, -.07, -.07, -.06, -.05, -.05,
         -.04, -.04, -.03, -.03, -.02, -.02, -.01, -.01, .00, .00,
         .01, .01, .02, .02, .03, .03, .04, .04, .05, .04,
         .05, .05, .06, .05, .06, .05, .06, .05, .05, .04,
         .05, .04, .04, .03, .04, .03, .03, .02, .03, .02,
         .02, .01, .02, .01, .02, .01, .01, .02, .01, .02,
         .01, .02, .01, .02, .01, .01, .02, .01, .01, .02,
         .01, .01, .00, .01, .00, .01, .00, .00, -.01, .00,
         -.01, -.01, -.02, -.01, -.02, -.02, -.01, -.02, -.03, -.02,
         -.03, -.02, -.03, -.03, -.02, -.03, -.04, -.03]
acf_k = [1.00, .51, .49, .48, .47, .47, .46, .45, .44, .43,
         .42, .40, .39, .38, .36, .35, .33, .31, .30, .28,
         .27, .25, .23, .22, .20, .19, .17, .16, .14, .13,
         .11, .10, .08, .07, .06, .05, .03, .02, .01, .00,
         -.01, -.02, -.03, -.04, -.04, -.05, -.06, -.06, -.07, -.08,
         -.08, -.09, -.09, -.08, -.10, -.09, -.10, -.10, -.09, -.11,
         -.10, -.11, -.11, -.12, -.11, -.12, -.12, -.13, -.13, -.14,
         -.14, -.15, -.15, -.16, -.16, -.17, -.17, -.17, -.18, -.18,
         -.19, -.18, -.19, -.18, -.19, -.18, -.18, -.17, -.17, -.16,
         -.16, -.15, -.15, -.14, -.13, -.13, -.12, -.11, -.11, -.10,
         -.09, -.09, -.08, -.07, -.07, -.06, -.05, -.05, -.04, -.04,
         -.03, -.02, -.02, -.01, -.01, .00, .00, .01, .01, .02,
         .02, .03, .03, .04, .04, .05, .04, .05, .05, .05,
         .04, .05, .04, .04, .05, .04, .03, .04, .03, .03,
         .02, .03, .02, .03, .02, .02, .01, .02, .01, .02,
         .01, .01, .02, .01, .02, .01, .02, .01, .01, .02,
         .01, .01, .02, .01, .01, .00, .01, .00, .01, .00,
         .00, -.01, .00, -.01, -.01, -.02, -.01, -.02, -.02, -.01,
         -.02, -.03, -.02, -.03, -.02, -.03, -.03, -.02, -.03, -.04,
         -.03, -.03, -.02, -.03, -.04, -.03, -.03, -.04]
acf_step = 2

# significance bounds of the ACF
conf_lag = [0, 3, 6, 10, 15, 20, 25, 30, 40, 50, 60, 80, 100, 150, 200, 250, 300, 350, 394]
conf_hi = [.10, .13, .15, .17, .19, .20, .21, .215, .22, .222, .224, .227, .23, .235, .24, .244, .247, .25, .252]
conf_lo = [-.10, -.13, -.15, -.17, -.19, -.20, -.21, -.215, -.22, -.223, -.226, -.23, -.234, -.24, -.245,
           -.25, -.254, -.257, -.26]

month_doy = [1, 31, 59, 90, 120, 151, 181, 212, 243, 273, 304, 334, 365]

''' Helpers '''
GREEN = '#0f6540'
BAR = '#1a6b46'
BAR_EDGE = '#7db596'
W, H = 1277, 767


def build(rows, shift):
    t, v = [], []
    for start, step, vals in zip(row_start, row_step, rows):
        t0 = pd.Timestamp(start) + pd.Timedelta(days=shift)
        t.extend(pd.date_range(t0, periods=len(vals), freq=f'{step}D'))
        v.extend(vals)
    return t, v


def series(rows, rows_odd):
    t1, v1 = build(rows, 0)
    t2, v2 = build(rows_odd, 1)
    t = pd.DatetimeIndex(t1 + t2)
    v = np.array(v1 + v2, dtype=float)
    order = np.argsort(t.values, kind='stable')
    return t[order], v[order]


t_par, par = series(par_rows, par_rows_odd)
t_c, c_val = series(c_rows, c_rows_odd)
t_k, k_val = series(k_rows, k_rows_odd)

# clear-sky curves laid over the years of the record
clr_t, clr_kv, clr_cv = [], [], []
for yr in clr_years:
    for d, vk, vc in zip(clr_doy, par_ref_k, par_ref_c):
        t = pd.Timestamp(yr, 1, 1) + pd.Timedelta(days=d - 1)
        if t <= pd.Timestamp(clr_end):
            clr_t.append(t)
            clr_kv.append(vk)
            clr_cv.append(vc)

fig = plt.figure(figsize=(W / 100, H / 100), dpi=100)
cols = [(50, 557), (620, 953), (1012, 1272)]
rows_px = [(47, 243), (289, 483), (530, 727)]


def new_ax(col, row):
    l, r = cols[col]
    t, b = rows_px[row]
    return fig.add_axes([l / W, 1 - b / H, (r - l) / W, (b - t) / H])


def frame(ax):
    ax.tick_params(which='both', direction='in', top=True, right=True, labelsize=9.5, width=1.0)
    ax.tick_params(which='major', length=5)
    ax.tick_params(which='minor', length=2.5)
    ax.tick_params(axis='x', pad=6)
    ax.tick_params(axis='y', pad=3)
    for s in ax.spines.values():
        s.set_linewidth(1.4)


def ylab(text, x, row):
    t, b = rows_px[row]
    fig.text(x / W, 1 - (t + b) / 2 / H, text, rotation=90, ha='center', va='center',
             rotation_mode='anchor', fontsize=10)


def plab(text, x, y):
    fig.text(x / W, 1 - y / H, text, ha='left', va='center', fontsize=13)


def date_axis(ax):
    ax.set_xlim(pd.Timestamp('2010-11-26'), pd.Timestamp('2015-01-13'))
    ax.xaxis.set_major_locator(mdates.YearLocator())
    ax.xaxis.set_major_formatter(mdates.DateFormatter('%Y'))
    ax.xaxis.set_minor_locator(mdates.MonthLocator(bymonth=[4, 7, 10]))


def doy_axis(ax):
    ax.set_xlim(-9, 383)
    ax.xaxis.set_major_locator(FixedLocator(month_doy))
    ax.set_xticklabels([str(d) for d in month_doy])


def acf_panel(ax, acf, row, name):
    lags = np.arange(len(acf)) * acf_step
    ax.bar(lags, acf, width=acf_step, align='edge', color=BAR, linewidth=0)
    ax.step(lags, acf, where='post', color=BAR_EDGE, lw=0.7)
    ax.hlines(0, lags[0], lags[-1] + acf_step, color=BAR, lw=0.9)
    ax.plot(conf_lag, conf_hi, color='k', lw=0.9, ls=(0, (2.5, 4)))
    ax.plot(conf_lag, conf_lo, color='k', lw=0.9, ls=(0, (2.5, 4)))
    ax.set_xlim(-3, 391)
    ax.set_ylim(-1.03, 1.05)
    ax.xaxis.set_major_locator(MultipleLocator(60))
    ax.xaxis.set_minor_locator(MultipleLocator(20))
    ax.yaxis.set_major_locator(MultipleLocator(0.5))
    ax.yaxis.set_minor_locator(MultipleLocator(0.1))
    ax.yaxis.set_major_formatter(FormatStrFormatter('%.1f'))
    frame(ax)
    ylab(name, 972, row)
    l, r = cols[2]
    fig.text((l + r) / 2 / W, 1 - (rows_px[row][1] + 28) / H, 'lag [d]', ha='center', va='center', fontsize=10)


''' Row 1: PAR '''
ax = new_ax(0, 0)
ax.plot(t_par, par, color=GREEN, lw=0.8)
ax.plot(clr_t, clr_kv, color='k', lw=0.9)
ax.plot(clr_t, clr_cv, color=GREEN, lw=2.4)
date_axis(ax)
ax.set_ylim(-0.18, 15.09)
ax.yaxis.set_major_locator(MultipleLocator(2))
ax.yaxis.set_minor_locator(MultipleLocator(0.5))
frame(ax)
ylab('PAR [MJ m$^{-2}$]', 19, 0)
plab('(a)', 5, 55)

ax = new_ax(1, 0)
ax.scatter(t_par.dayofyear, par, s=4, color=GREEN, linewidths=0)
ax.plot(clr_doy, par_ref_k, color='k', lw=2.6)
ax.plot(clr_doy, par_ref_c, color=GREEN, lw=2.6)
doy_axis(ax)
ax.set_ylim(-0.18, 15.09)
ax.yaxis.set_major_locator(MultipleLocator(2))
ax.yaxis.set_minor_locator(MultipleLocator(0.5))
frame(ax)
ylab('PAR [MJ m$^{-2}$]', 588, 0)
plab('(b)', 574, 55)

ax = new_ax(2, 0)
acf_panel(ax, acf_par, 0, 'ACF$_{\\mathrm{PAR}}$')
plab('(c)', 962, 55)

''' Rows 2 and 3: c and k '''
for row, (tt, vals, name, acf, letters) in enumerate(
        [(t_c, c_val, 'c', acf_c, 'def'), (t_k, k_val, 'k', acf_k, 'ghi')], start=1):
    top = rows_px[row][0]
    ax = new_ax(0, row)
    ax.scatter(tt, vals, s=9, color=GREEN, linewidths=0)
    date_axis(ax)
    ax.set_ylim(-0.015, 1.13)
    ax.yaxis.set_major_locator(MultipleLocator(0.2))
    ax.yaxis.set_minor_locator(MultipleLocator(0.05))
    ax.yaxis.set_major_formatter(FormatStrFormatter('%.1f'))
    frame(ax)
    ylab(name, 14, row)
    plab('(%s)' % letters[0], 5, top + 8)

    ax = new_ax(1, row)
    ax.scatter(tt.dayofyear, vals, s=4, color=GREEN, linewidths=0)
    doy_axis(ax)
    ax.set_ylim(-0.015, 1.13)
    ax.yaxis.set_major_locator(MultipleLocator(0.2))
    ax.yaxis.set_minor_locator(MultipleLocator(0.05))
    ax.yaxis.set_major_formatter(FormatStrFormatter('%.1f'))
    frame(ax)
    ylab(name, 583, row)
    plab('(%s)' % letters[1], 574, top + 8)

    ax = new_ax(2, row)
    acf_panel(ax, acf, row, 'ACF$_{\\mathrm{%s}}$' % name)
    plab('(%s)' % letters[2], 962, top + 8)

fig.text(0.5, 1 - 18 / H, 'GH-Ank (\u03d5= 5.27\u00b0)', ha='center', va='center', fontsize=18)

fig.savefig('out.png', dpi=100)
